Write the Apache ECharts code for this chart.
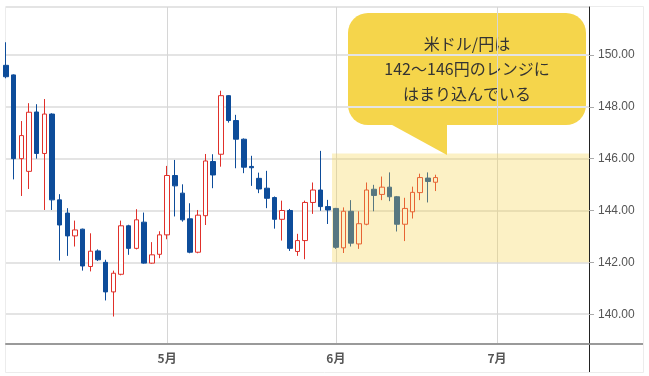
<!DOCTYPE html>
<html>
<head>
<meta charset="utf-8">
<script src="https://cdn.jsdelivr.net/npm/echarts/dist/echarts.min.js"></script>
<style>
  html, body { margin: 0; padding: 0; background: #fff; }
  #main { width: 649px; height: 376px; }
</style>
</head>
<body>
<div id="main"></div>
<script>
// trading days (categories run past the data into July)
const dates = [
  '2025-04-02', '2025-04-03', '2025-04-04', '2025-04-07', '2025-04-08', '2025-04-09', '2025-04-10',
  '2025-04-11', '2025-04-14', '2025-04-15', '2025-04-16', '2025-04-17', '2025-04-18', '2025-04-21',
  '2025-04-22', '2025-04-23', '2025-04-24', '2025-04-25', '2025-04-28', '2025-04-29', '2025-04-30',
  '2025-05-01', '2025-05-02', '2025-05-05', '2025-05-06', '2025-05-07', '2025-05-08', '2025-05-09',
  '2025-05-12', '2025-05-13', '2025-05-14', '2025-05-15', '2025-05-16', '2025-05-19', '2025-05-20',
  '2025-05-21', '2025-05-22', '2025-05-23', '2025-05-26', '2025-05-27', '2025-05-28', '2025-05-29',
  '2025-05-30', '2025-06-02', '2025-06-03', '2025-06-04', '2025-06-05', '2025-06-06', '2025-06-09',
  '2025-06-10', '2025-06-11', '2025-06-12', '2025-06-13', '2025-06-16', '2025-06-17', '2025-06-18',
  '2025-06-19', '2025-06-20', '2025-06-23', '2025-06-24', '2025-06-25', '2025-06-26', '2025-06-27',
  '2025-06-30', '2025-07-01', '2025-07-02', '2025-07-03', '2025-07-04', '2025-07-07', '2025-07-08',
  '2025-07-09', '2025-07-10', '2025-07-11', '2025-07-14', '2025-07-15', '2025-07-16', '2025-07-17'
];

const open = [
  149.60, 149.23, 146.00, 145.51, 147.80, 146.20, 147.72, 144.41, 143.90, 143.02, 143.28,
  141.84, 142.44, 142.00, 140.86, 141.54, 143.41, 142.54, 143.55, 141.97, 142.31,
  143.06, 145.35, 144.67, 143.68, 142.39, 143.80, 145.89, 146.17, 148.43, 147.47, 146.75,
  145.70, 145.24, 144.86, 144.50, 143.66, 144.00, 142.42, 142.84, 144.31, 144.79, 144.15,
  144.08, 142.56, 143.97, 142.71, 143.47, 144.82, 144.62, 144.90, 144.53, 143.47, 143.95,
  144.69, 145.25, 145.09
];
const close = [
  149.16, 146.00, 146.89, 147.79, 146.20, 147.72, 144.41, 143.44, 143.02, 143.25, 141.86,
  142.43, 142.10, 140.86, 141.58, 143.41, 142.54, 143.64, 141.97, 142.29, 143.06,
  145.35, 144.95, 143.64, 142.39, 143.82, 145.91, 145.37, 148.43, 147.47, 146.75, 145.67,
  145.65, 144.83, 144.47, 143.66, 144.00, 142.54, 142.84, 144.31, 144.79, 144.15, 144.02,
  142.58, 143.97, 142.74, 143.49, 144.79, 144.58, 144.90, 144.53, 143.47, 144.08, 144.70,
  145.27, 145.12, 145.27
];
const low = [
  149.10, 145.20, 144.56, 144.83, 146.00, 144.02, 144.02, 142.07, 142.25, 142.61, 141.68,
  141.65, 142.05, 140.53, 139.91, 141.50, 142.29, 142.50, 141.95, 141.95, 142.16,
  142.89, 143.77, 143.57, 142.35, 142.35, 143.44, 144.86, 145.69, 147.39, 145.63, 145.44,
  144.95, 144.67, 144.09, 143.30, 142.84, 142.44, 142.25, 142.12, 143.87, 143.99, 143.48,
  142.52, 142.36, 142.61, 142.52, 143.43, 143.97, 144.40, 144.36, 143.19, 142.82, 143.69,
  144.40, 144.31, 144.75
];
const high = [
  150.49, 149.25, 147.45, 148.14, 148.10, 148.30, 147.75, 144.63, 144.09, 143.61, 143.30,
  143.12, 142.50, 142.10, 141.68, 143.61, 143.45, 144.05, 143.92, 142.78, 143.20,
  145.72, 145.95, 145.01, 144.28, 144.02, 146.18, 146.17, 148.62, 148.45, 147.69, 146.78,
  146.11, 145.46, 145.53, 144.54, 144.38, 144.06, 143.10, 144.38, 145.08, 146.30, 144.41,
  144.10, 144.12, 144.40, 143.97, 145.08, 144.99, 145.31, 145.47, 144.56, 144.49, 144.92,
  145.42, 145.47, 145.38
];

// range box: from the start of June to the right edge, 142-146 yen
const rangeStart = '2025-06-02';
const rangeLow = 142.0;
const rangeHigh = 146.2;

const yMin = 138.85;
const yMax = 151.85;

const calloutLines = ['米ドル/円は', '142～146円のレンジに', 'はまり込んでいる'];

const chartDom = document.getElementById('main');
const myChart = echarts.init(chartDom);
let option;

const candles = open.map((o, i) => [o, close[i], low[i], high[i]]);
const isMonthStart = (index) =>
  index > 0 && dates[index].slice(5, 7) !== dates[index - 1].slice(5, 7);
const startIdx = dates.indexOf(rangeStart) - 0.5;

const yellow = '#f5d54b';

option = {
  animation: false,
  backgroundColor: '#fff',
  grid: {
    left: 6,
    right: 60,
    top: 7,
    bottom: 32
  },
  xAxis: [
    {
      type: 'category',
      data: dates,
      boundaryGap: false,
      axisLine: { onZero: false, lineStyle: { color: '#9a9a9a', width: 2 } },
      axisTick: { show: false },
      axisLabel: {
        interval: (index) => isMonthStart(index),
        formatter: (value) => parseInt(value.slice(5, 7), 10) + '月',
        color: '#555',
        fontWeight: 'bold',
        fontSize: 12,
        fontFamily: 'Noto Sans CJK JP',
        margin: 8
      },
      splitLine: {
        show: true,
        interval: (index) => isMonthStart(index),
        lineStyle: { color: '#d6d6d6', width: 1 }
      }
    },
    {
      type: 'value',
      min: 0,
      max: dates.length - 1,
      show: false
    }
  ],
  yAxis: {
    type: 'value',
    position: 'right',
    min: yMin,
    max: yMax,
    splitNumber: 6,
    axisLine: { show: true, onZero: false, lineStyle: { color: '#222', width: 1 } },
    axisTick: { show: true, length: 5, lineStyle: { color: '#aaa' } },
    axisLabel: {
      showMinLabel: false,
      showMaxLabel: false,
      formatter: (v) => v.toFixed(2),
      color: '#555',
      fontSize: 12,
      fontFamily: 'Liberation Sans',
      margin: 9
    },
    splitLine: { lineStyle: { color: '#e4e4e4', width: 2 } }
  },
  series: [
    {
      type: 'candlestick',
      data: candles,
      barWidth: 5,
      clip: true,
      itemStyle: {
        color: '#ffffff',
        color0: '#0d4c9a',
        borderColor: '#e0302a',
        borderColor0: '#0d4c9a',
        borderWidth: 1
      }
    },
    {
      type: 'line',
      xAxisIndex: 1,
      data: [],
      markArea: {
        silent: true,
        z: 10,
        itemStyle: { color: 'rgba(245, 213, 75, 0.32)' },
        data: [[
          { xAxis: startIdx, yAxis: rangeHigh },
          { xAxis: dates.length - 1, yAxis: rangeLow }
        ]]
      }
    }
  ],
  graphic: [
    {
      type: 'rect',
      silent: true,
      shape: { x: 5.5, y: 6.5, width: 638, height: 366 },
      style: { fill: 'none', stroke: '#ececec', lineWidth: 1 },
      z: -1
    },
    {
      type: 'line',
      silent: true,
      shape: { x1: 589, y1: 344, x2: 643, y2: 344 },
      style: { stroke: '#9a9a9a', lineWidth: 2 }
    },
    {
      type: 'line',
      silent: true,
      shape: { x1: 589.5, y1: 344, x2: 589.5, y2: 372 },
      style: { stroke: '#222', lineWidth: 1 }
    },
    {
      type: 'group',
      z: 20,
      children: [
        {
          type: 'polygon',
          shape: { points: [[383, 120], [447, 120], [447, 155]] },
          style: { fill: yellow }
        },
        {
          type: 'rect',
          shape: { x: 348, y: 13, width: 238, height: 112, r: 20 },
          style: { fill: yellow }
        },
        {
          type: 'text',
          style: {
            text: calloutLines.join('\n'),
            x: 467,
            y: 69,
            align: 'center',
            verticalAlign: 'middle',
            lineHeight: 25,
            font: '16px "Noto Sans CJK JP"',
            fill: '#333'
          }
        }
      ]
    }
  ]
};

option && myChart.setOption(option);
</script>
</body>
</html>
